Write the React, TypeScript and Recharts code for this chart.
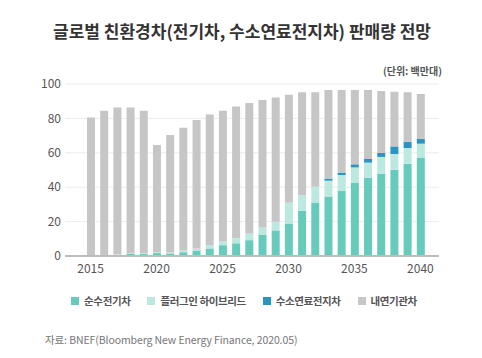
import { Bar, BarChart, CartesianGrid, XAxis, YAxis } from "recharts";

// 단위: 백만대
const years = [
  "2015", "2016", "2017", "2018", "2019", "2020", "2021", "2022", "2023",
  "2024", "2025", "2026", "2027", "2028", "2029", "2030", "2031", "2032",
  "2033", "2034", "2035", "2036", "2037", "2038", "2039", "2040",
];
const bev = [
  0.3, 0.4, 0.6, 1.1, 1.3, 1.7, 1.5, 2.2, 3.2, 4.4, 6.3, 7.4, 9.2, 12.2, 14.9,
  18.9, 26.3, 31.1, 34.6, 38.0, 42.7, 45.4, 47.7, 50.2, 53.7, 57.2,
];
const phev = [
  0.1, 0.2, 0.2, 0.4, 0.4, 0.6, 0.5, 1.0, 1.2, 2.0, 2.2, 3.0, 3.9, 4.4, 5.0,
  12.0, 9.0, 9.1, 9.2, 9.1, 8.8, 8.9, 9.9, 9.1, 9.1, 8.1,
];
const fcev = [
  0, 0, 0, 0, 0, 0, 0, 0, 0, 0, 0, 0, 0, 0, 0, 0, 0, 0, 1.2, 1.4, 1.8, 2.1,
  2.4, 4.4, 3.6, 2.9,
];
const ice = [
  80.1, 83.9, 85.5, 84.8, 82.8, 62.2, 68.3, 71.3, 74.6, 75.8, 76.0, 76.5, 75.8,
  74.1, 72.2, 62.9, 59.9, 55.0, 51.5, 48.0, 43.2, 40.1, 35.9, 31.8, 28.8, 26.0,
];
const yTicks = [0, 20, 40, 60, 80, 100];

const series = [
  { key: "bev", name: "순수전기차", color: "#66cbba" },
  { key: "phev", name: "플러그인 하이브리드", color: "#bbe9df" },
  { key: "fcev", name: "수소연료전지차", color: "#2a95c2" },
  { key: "ice", name: "내연기관차", color: "#c6c6c6" },
];

const data = years.map((year, i) => ({
  year,
  bev: bev[i],
  phev: phev[i],
  fcev: fcev[i],
  ice: ice[i],
}));

const font = '"Noto Sans CJK KR", "Noto Sans", sans-serif';

export default function App() {
  return (
    <div
      style={{
        position: "absolute",
        left: 0,
        top: 0,
        width: 482,
        height: 358,
        background: "#fff",
        fontFamily: font,
      }}
    >
      <div
        style={{
          position: "absolute",
          top: 18,
          left: 0,
          width: 484,
          textAlign: "center",
          fontSize: 17,
          fontWeight: 700,
          color: "#333",
        }}
      >
        글로벌 친환경차(전기차, 수소연료전지차) 판매량 전망
      </div>
      <div
        style={{
          position: "absolute",
          top: 63,
          right: 40,
          fontSize: 10,
          fontWeight: 700,
          color: "#555",
        }}
      >
        (단위: 백만대)
      </div>

      <div style={{ position: "absolute", left: 0, top: 0 }}>
        <BarChart
          width={482}
          height={285}
          data={data}
          margin={{ top: 84, right: 43, left: 25, bottom: 1 }}
        >
          <CartesianGrid vertical={false} stroke="#ececec" />
          <XAxis
            dataKey="year"
            interval={4}
            tickLine={false}
            axisLine={{ stroke: "#bcbcbc", strokeWidth: 2 }}
            padding={{ left: 19, right: 12 }}
            height={28}
            tick={{ fontSize: 12, fill: "#555", fontFamily: font }}
          />
          <YAxis
            domain={[0, 100]}
            ticks={yTicks}
            width={40}
            axisLine={false}
            tickLine={false}
            tickSize={0}
            tickMargin={4}
            tick={{ fontSize: 12, fill: "#555", fontFamily: font }}
          />
          {series.map((s) => (
            <Bar
              key={s.key}
              dataKey={s.key}
              name={s.name}
              stackId="a"
              fill={s.color}
              barSize={8}
              isAnimationActive={false}
            />
          ))}
        </BarChart>
      </div>

      <div
        style={{
          position: "absolute",
          top: 293,
          left: 0,
          width: 488,
          display: "flex",
          justifyContent: "center",
          gap: 17,
          fontSize: 10.5,
          fontWeight: 700,
          color: "#555",
          letterSpacing: -0.4,
        }}
      >
        {series.map((s) => (
          <div key={s.key} style={{ display: "flex", alignItems: "center" }}>
            <span
              style={{
                display: "inline-block",
                width: 8,
                height: 8,
                background: s.color,
                marginRight: 5,
              }}
            />
            {s.name}
          </div>
        ))}
      </div>

      <div
        style={{
          position: "absolute",
          top: 332,
          left: 45,
          fontSize: 10.5,
          color: "#777",
          letterSpacing: -0.1,
        }}
      >
        자료: BNEF(Bloomberg New Energy Finance, 2020.05)
      </div>
    </div>
  );
}
